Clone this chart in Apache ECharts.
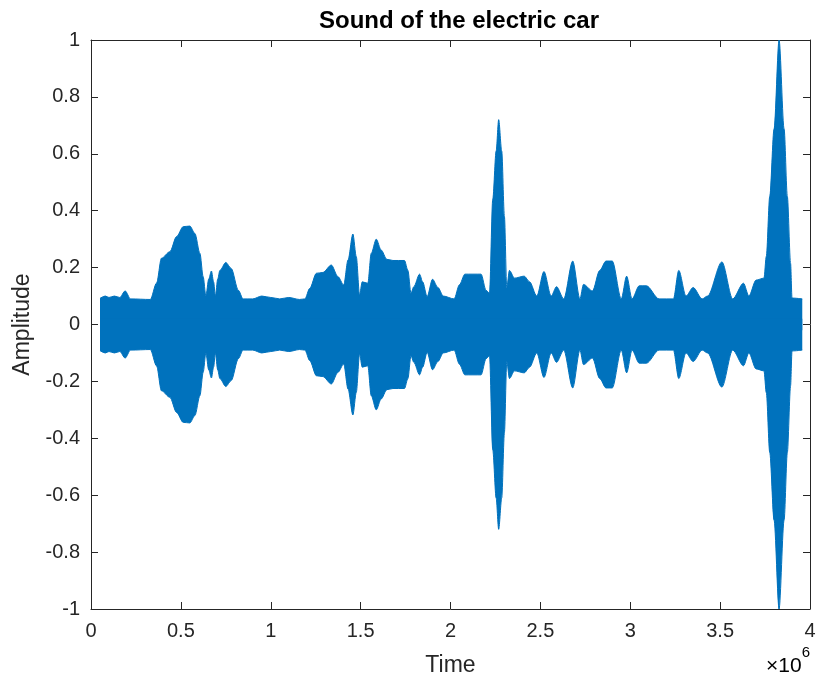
<!DOCTYPE html>
<html>
<head>
<meta charset="utf-8">
<script src="https://cdn.jsdelivr.net/npm/echarts@6/dist/echarts.min.js"></script>
<style>
html,body{margin:0;padding:0;background:#fff;}
#chart{width:819px;height:683px;}
</style>
</head>
<body>
<div id="chart"></div>
<script>
// Time values (units of 1e6 samples) where the envelope was read
var times = [0.05,0.08,0.10,0.13,0.16,0.19,0.22,0.33,0.365,0.392,0.439,0.476,0.513,0.55,0.578,0.606,0.624,0.639,0.655,0.67,0.682,0.692,0.705,0.717,0.75,0.78,0.82,0.846,0.90,0.95,1.0,1.05,1.10,1.16,1.19,1.217,1.254,1.29,1.337,1.374,1.406,1.43,1.457,1.476,1.494,1.509,1.54,1.559,1.587,1.614,1.646,1.68,1.744,1.763,1.78,1.796,1.828,1.845,1.87,1.90,1.93,1.96,2.02,2.05,2.08,2.17,2.198,2.217,2.235,2.254,2.268,2.285,2.30,2.313,2.328,2.356,2.41,2.44,2.48,2.52,2.56,2.59,2.63,2.68,2.72,2.74,2.79,2.83,2.865,2.90,2.95,2.98,3.01,3.05,3.09,3.16,3.24,3.27,3.31,3.35,3.40,3.43,3.51,3.57,3.63,3.66,3.70,3.744,3.757,3.776,3.80,3.828,3.856,3.874,3.892,3.90,3.957];
// Upper envelope of the waveform
var upperEnv = [0.092,0.10,0.095,0.10,0.095,0.118,0.09,0.088,0.146,0.233,0.256,0.309,0.344,0.346,0.32,0.25,0.168,0.10,0.16,0.188,0.15,0.10,0.16,0.19,0.218,0.197,0.12,0.09,0.09,0.10,0.095,0.09,0.095,0.088,0.09,0.127,0.18,0.183,0.209,0.168,0.139,0.227,0.318,0.238,0.104,0.15,0.145,0.25,0.30,0.262,0.229,0.225,0.225,0.19,0.11,0.133,0.177,0.15,0.098,0.159,0.13,0.10,0.09,0.14,0.177,0.177,0.12,0.11,0.44,0.61,0.72,0.61,0.38,0.13,0.19,0.163,0.17,0.15,0.10,0.186,0.10,0.133,0.09,0.223,0.09,0.141,0.118,0.19,0.223,0.223,0.09,0.17,0.09,0.136,0.136,0.09,0.09,0.19,0.10,0.13,0.09,0.10,0.22,0.09,0.145,0.10,0.156,0.163,0.24,0.45,0.687,1.0,0.687,0.45,0.215,0.093,0.09];
// Lower envelope (the waveform is symmetric)
var lowerEnv = upperEnv.map(function(v){ return -v; });

var xTicks = {min:0, max:4, interval:0.5};
var yTicks = {min:-1, max:1, interval:0.2};

var txt = '#262626';
var font = 'Liberation Sans, Arial, sans-serif';
var wave = '#0072BD';

var chart = echarts.init(document.getElementById('chart'));
function axisCommon(extra){
  var a = {
    type:'value',
    axisLine:{show:true, onZero:false, lineStyle:{color:txt, width:1}},
    axisTick:{show:true, inside:true, length:7, lineStyle:{color:txt}},
    splitLine:{show:false}
  };
  for (var k in extra) a[k]=extra[k];
  return a;
}
chart.setOption({
  animation:false,
  backgroundColor:'#fff',
  title:{text:'Sound of the electric car', left:454, top:4, textAlign:'center',
    textStyle:{fontFamily:font, fontSize:24, fontWeight:'bold', color:'#000'}},
  grid:{left:91, right:9, top:40, bottom:74},
  xAxis:[
    axisCommon({min:xTicks.min, max:xTicks.max, interval:xTicks.interval, position:'bottom',
      axisLabel:{fontFamily:font, fontSize:20, color:txt, margin:12},
      name:'Time', nameLocation:'middle', nameGap:45,
      nameTextStyle:{fontFamily:font, fontSize:23, color:txt}}),
    axisCommon({min:xTicks.min, max:xTicks.max, interval:xTicks.interval, position:'top',
      axisLabel:{show:false}})
  ],
  yAxis:[
    axisCommon({min:yTicks.min, max:yTicks.max, interval:yTicks.interval, position:'left',
      axisLabel:{fontFamily:font, fontSize:20, color:txt, margin:11},
      name:'Amplitude', nameLocation:'middle', nameGap:54,
      nameTextStyle:{fontFamily:font, fontSize:23, color:txt}}),
    axisCommon({min:yTicks.min, max:yTicks.max, interval:yTicks.interval, position:'right',
      axisLabel:{show:false}})
  ],
  graphic:[{
    type:'text', right:9, top:645,
    style:{text:'{a|\u00d710}{b|6}', rich:{
      a:{fontFamily:font, fontSize:21, color:txt, padding:[11,0,0,0]},
      b:{fontFamily:font, fontSize:15, color:txt, verticalAlign:'top'}
    }}
  }],
  series:[
    {type:'line', xAxisIndex:0, yAxisIndex:0, showSymbol:false, symbol:'none', smooth:0.3,
     smoothMonotone:'x',
     data: times.map(function(t,i){return [t, upperEnv[i]];}),
     lineStyle:{color:wave, width:1}, itemStyle:{color:wave},
     areaStyle:{color:wave, opacity:1, origin:-0.02}},
    {type:'line', xAxisIndex:0, yAxisIndex:0, showSymbol:false, symbol:'none', smooth:0.3,
     smoothMonotone:'x',
     data: times.map(function(t,i){return [t, lowerEnv[i]];}),
     lineStyle:{color:wave, width:1}, itemStyle:{color:wave},
     areaStyle:{color:wave, opacity:1, origin:0.02}}
  ]
});
</script>
</body>
</html>
